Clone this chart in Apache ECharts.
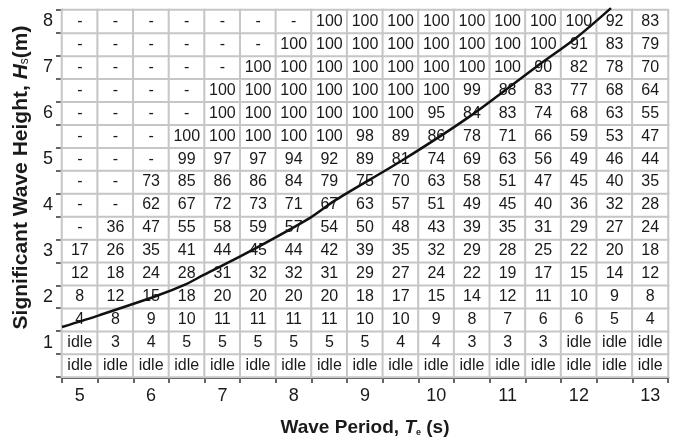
<!DOCTYPE html>
<html>
<head>
<meta charset="utf-8">
<script src="https://cdn.jsdelivr.net/npm/echarts@6/dist/echarts.min.js"></script>
<style>html,body{margin:0;padding:0;background:#fff}#c{width:676px;height:437px}</style>
</head>
<body>
<div id="c"></div>
<script>
// Wave period categories (s)
var periods = ['5','5.5','6','6.5','7','7.5','8','8.5','9','9.5','10','10.5','11','11.5','12','12.5','13'];
// Significant wave height categories (m), bottom to top
var heights = ['0.5','1','1.5','2','2.5','3','3.5','4','4.5','5','5.5','6','6.5','7','7.5','8'];
// Table rows, top (Hs = 8) to bottom (Hs = 0.5)
var row8_0 = ['-','-','-','-','-','-','-',100,100,100,100,100,100,100,100,92,83];
var row7_5 = ['-','-','-','-','-','-',100,100,100,100,100,100,100,100,91,83,79];
var row7_0 = ['-','-','-','-','-',100,100,100,100,100,100,100,100,90,82,78,70];
var row6_5 = ['-','-','-','-',100,100,100,100,100,100,100,99,88,83,77,68,64];
var row6_0 = ['-','-','-','-',100,100,100,100,100,100,95,84,83,74,68,63,55];
var row5_5 = ['-','-','-',100,100,100,100,100,98,89,86,78,71,66,59,53,47];
var row5_0 = ['-','-','-',99,97,97,94,92,89,81,74,69,63,56,49,46,44];
var row4_5 = ['-','-',73,85,86,86,84,79,75,70,63,58,51,47,45,40,35];
var row4_0 = ['-','-',62,67,72,73,71,67,63,57,51,49,45,40,36,32,28];
var row3_5 = ['-',36,47,55,58,59,57,54,50,48,43,39,35,31,29,27,24];
var row3_0 = [17,26,35,41,44,45,44,42,39,35,32,29,28,25,22,20,18];
var row2_5 = [12,18,24,28,31,32,32,31,29,27,24,22,19,17,15,14,12];
var row2_0 = [8,12,15,18,20,20,20,20,18,17,15,14,12,11,10,9,8];
var row1_5 = [4,8,9,10,11,11,11,11,10,10,9,8,7,6,6,5,4];
var row1_0 = ['idle',3,4,5,5,5,5,5,5,4,4,3,3,3,'idle','idle','idle'];
var row0_5 = ['idle','idle','idle','idle','idle','idle','idle','idle','idle','idle','idle','idle','idle','idle','idle','idle','idle'];
var rowsBottomUp = [row0_5,row1_0,row1_5,row2_0,row2_5,row3_0,row3_5,row4_0,row4_5,row5_0,row5_5,row6_0,row6_5,row7_0,row7_5,row8_0];
// Curve (Te, Hs)
var curveTe = [4.75,5.28,6.08,6.50,6.73,7.29,8.23,8.59,9.53,10.46,11.40,11.96,12.45];
var curveHs = [1.34,1.60,2.02,2.28,2.47,2.91,3.72,4.11,4.98,5.92,7.01,7.64,8.29];

var cells = [];
for (var yi = 0; yi < rowsBottomUp.length; yi++) {
  for (var xi = 0; xi < periods.length; xi++) {
    cells.push([xi, yi, 1]);
  }
}
var curve = curveTe.map(function (t, i) { return [t, curveHs[i]]; });

var chart = echarts.init(document.getElementById('c'));
var txt = '#1a1a1a';
var ff = 'Liberation Sans, Arial, sans-serif';
chart.setOption({
  animation: false,
  grid: {left: 62, top: 10, right: 8, bottom: 60, containLabel: false, outerBoundsMode: 'none'},
  xAxis: [{
    type: 'category', data: periods, position: 'bottom',
    axisLine: {show: true, lineStyle: {color: '#111', width: 2.5}},
    axisTick: {show: true, interval: 0, length: 6, inside: false, lineStyle: {color: '#333', width: 1.5}},
    axisLabel: {interval: 0, margin: 10, color: txt, fontSize: 18, fontFamily: ff,
      formatter: function (v) { return v.indexOf('.') >= 0 ? '' : v; }},
    splitLine: {show: false},
    name: '{b|Wave Period, }{i|T}{sub|e}{b| (s)}', nameLocation: 'middle', nameGap: 41,
    nameTextStyle: {rich: {
      b: {fontSize: 19, fontWeight: 'bold', color: txt, fontFamily: ff},
      i: {fontSize: 19, fontWeight: 'bold', fontStyle: 'italic', color: txt, fontFamily: ff},
      sub: {fontSize: 9, fontWeight: 'bold', color: txt, verticalAlign: 'bottom', padding: [8, 0, 0, 0], fontFamily: ff}
    }}
  }, {
    type: 'value', min: 4.75, max: 13.25, show: false
  }],
  yAxis: [{
    type: 'category', data: heights,
    axisLine: {show: true, lineStyle: {color: '#111', width: 2.5}},
    axisTick: {show: true, interval: 0, length: 6, lineStyle: {color: '#333', width: 1.5}},
    axisLabel: {interval: 0, margin: 9, color: txt, fontSize: 18, fontFamily: ff,
      formatter: function (v) { return v.indexOf('.') >= 0 ? '' : v; }},
    splitLine: {show: false},
    name: '{b|Significant Wave Height, }{i|H}{sub|s}{b|(m)}', nameLocation: 'middle', nameGap: 29,
    nameTextStyle: {padding: [0, 0, 0, 32], rich: {
      b: {fontSize: 21, fontWeight: 'bold', color: txt, fontFamily: ff},
      i: {fontSize: 21, fontWeight: 'bold', fontStyle: 'italic', color: txt, fontFamily: ff},
      sub: {fontSize: 12, fontWeight: 'normal', color: txt, padding: [6, 0, 0, 0], fontFamily: ff}
    }}
  }, {
    type: 'value', min: 0.25, max: 8.25, show: false
  }],
  series: [{
    type: 'heatmap', data: cells, xAxisIndex: 0, yAxisIndex: 0,
    itemStyle: {color: '#ffffff', borderColor: '#c6c6c6', borderWidth: 2},
    emphasis: {disabled: true},
    label: {show: true, color: txt, fontSize: 16, fontFamily: 'Liberation Sans Narrow, Liberation Sans, Arial, sans-serif',
      formatter: function (p) { return String(rowsBottomUp[p.value[1]][p.value[0]]); }}
  }, {
    type: 'line', data: curve, xAxisIndex: 1, yAxisIndex: 1, smooth: 0.3, clip: false,
    symbol: 'none', lineStyle: {color: '#111', width: 2.5}, z: 5
  }]
});
</script>
</body>
</html>
